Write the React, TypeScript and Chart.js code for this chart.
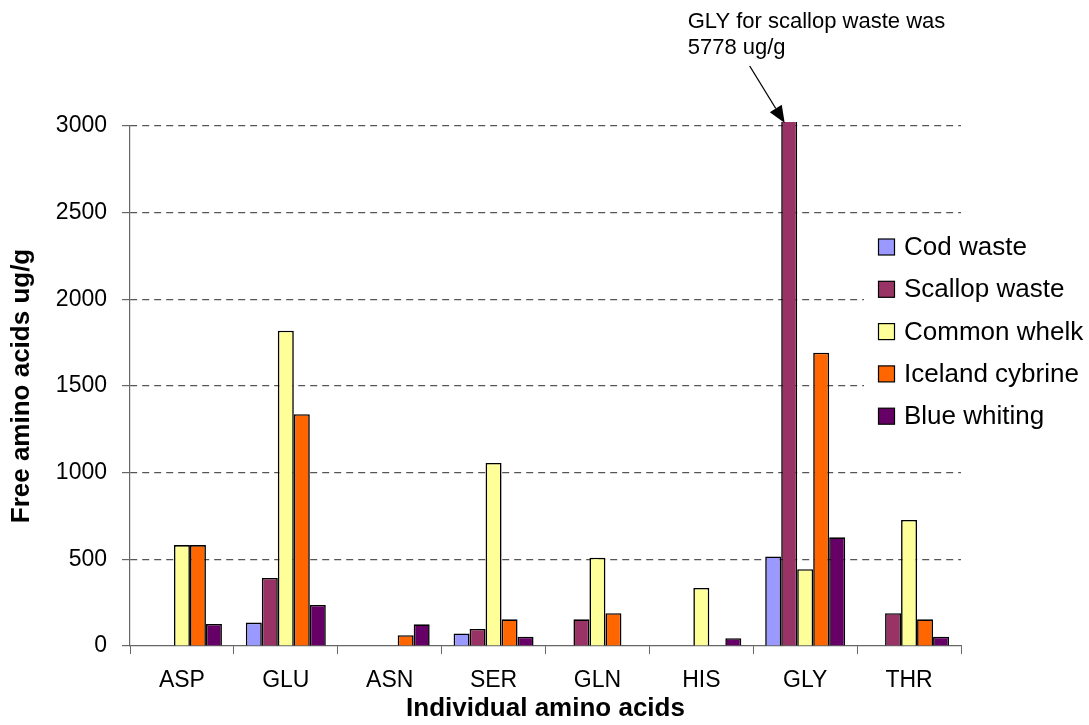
import { useEffect, useRef } from "react";
import { Chart, registerables } from "chart.js";

Chart.register(...registerables);

// Amino acid categories along the x axis
const categories = ["ASP", "GLU", "ASN", "SER", "GLN", "HIS", "GLY", "THR"];

// Free amino acid content (ug/g) per raw material; null = not detected
const codWaste = [null, 135, null, 72, null, null, 517, null];
const scallopWaste = [null, 393, null, 98, 154, null, 5778, 189];
const commonWhelk = [582, 1819, null, 1056, 509, 335, 443, 727];
const icelandCybrine = [582, 1337, 62, 154, 189, null, 1692, 154];
const blueWhiting = [127, 237, 125, 54, null, 45, 627, 54];

const seriesNames = ["Cod waste", "Scallop waste", "Common whelk", "Iceland cybrine", "Blue whiting"];
const seriesValues = [codWaste, scallopWaste, commonWhelk, icelandCybrine, blueWhiting];
const seriesColors = ["#9999FF", "#993366", "#FFFF99", "#FF6600", "#660066"];

const yMin = 0;
const yMax = 3000;
const yStep = 500;

const xTitle = "Individual amino acids";
const yTitle = "Free amino acids ug/g";
const noteLines = ["GLY for scallop waste was", "5778 ug/g"];
const noteSeries = 1;
const noteCategory = 6;

const FONT = "'Liberation Sans', Arial, Helvetica, sans-serif";

// Legend panel and the call-out arrow for the off-scale GLY bar
const overlayPlugin = {
  id: "overlay",
  afterDraw(chart: any) {
    const ctx: CanvasRenderingContext2D = chart.ctx;
    const area = chart.chartArea;

    // legend with a white backing panel
    ctx.save();
    ctx.fillStyle = "#ffffff";
    ctx.fillRect(864, 224, chart.width - 864, 214);
    ctx.font = `26px ${FONT}`;
    ctx.textBaseline = "middle";
    ctx.textAlign = "left";
    chart.data.datasets.forEach((ds: any, i: number) => {
      const cy = 247 + i * 42.3;
      const bx = 878.5;
      const size = 16;
      ctx.fillStyle = ds.backgroundColor;
      ctx.fillRect(bx, cy - size / 2, size, size);
      ctx.strokeStyle = "#000";
      ctx.lineWidth = 1.2;
      ctx.strokeRect(bx, cy - size / 2, size, size);
      ctx.fillStyle = "#000";
      ctx.fillText(ds.label, 904, cy + 1);
    });
    ctx.restore();

    // annotation arrow pointing at the clipped bar
    const bar = chart.getDatasetMeta(noteSeries).data[noteCategory];
    if (!bar) return;
    const tipX = bar.x - 4.5;
    const tipY = area.top - 3;
    const startX = tipX - 35;
    const startY = tipY - 57;
    const dx = tipX - startX;
    const dy = tipY - startY;
    const len = Math.hypot(dx, dy);
    const ux = dx / len;
    const uy = dy / len;
    const headLen = 17;
    const headHalf = 7;
    const baseX = tipX - ux * headLen;
    const baseY = tipY - uy * headLen;

    ctx.save();
    ctx.strokeStyle = "#000";
    ctx.fillStyle = "#000";
    ctx.lineWidth = 1.3;
    ctx.beginPath();
    ctx.moveTo(startX, startY);
    ctx.lineTo(baseX, baseY);
    ctx.stroke();
    ctx.beginPath();
    ctx.moveTo(tipX, tipY);
    ctx.lineTo(baseX - uy * headHalf, baseY + ux * headHalf);
    ctx.lineTo(baseX + uy * headHalf, baseY - ux * headHalf);
    ctx.closePath();
    ctx.fill();

    ctx.font = `22px ${FONT}`;
    ctx.textBaseline = "middle";
    ctx.textAlign = "left";
    noteLines.forEach((line, i) => {
      ctx.fillText(line, tipX - 97, tipY - 101 + i * 26);
    });
    ctx.restore();
  },
};

export default function App() {
  const canvasRef = useRef<HTMLCanvasElement | null>(null);

  useEffect(() => {
    const canvas = canvasRef.current;
    if (!canvas) return;

    const chart = new Chart(canvas, {
      type: "bar",
      data: {
        labels: categories,
        datasets: seriesNames.map((name, i) => ({
          label: name,
          data: seriesValues[i],
          backgroundColor: seriesColors[i],
          borderColor: "#000000",
          borderWidth: 1.6,
          categoryPercentage: 0.77,
          barPercentage: 1,
          clip: { left: 5, top: 4, right: 5, bottom: 5 },
        })),
      },
      options: {
        responsive: false,
        animation: false,
        layout: { padding: { top: 126, right: 128, bottom: 0, left: 0 } },
        plugins: {
          legend: { display: false },
          tooltip: { enabled: false },
        },
        scales: {
          x: {
            afterFit: (scale: any) => {
              scale.height = 79;
            },
            grid: {
              offset: true,
              drawOnChartArea: false,
              drawTicks: true,
              tickLength: 8,
              color: "#666666",
              tickColor: "#666666",
            },
            border: { display: true, color: "#666666", width: 1.2 },
            ticks: {
              color: "#000000",
              padding: 13,
              font: { family: FONT, size: 23 },
              maxRotation: 0,
            },
            title: {
              display: true,
              text: xTitle,
              color: "#000000",
              font: { family: FONT, size: 26, weight: "bold" },
              padding: { top: 0, bottom: 1 },
            },
          },
          y: {
            min: yMin,
            max: yMax,
            afterFit: (scale: any) => {
              scale.width = 130;
            },
            ticks: {
              stepSize: yStep,
              color: "#000000",
              padding: 15,
              font: { family: FONT, size: 23 },
              callback: (value: any) => String(value),
            },
            grid: {
              color: (c: any) => (c.tick && c.tick.value === 0 ? "rgba(0,0,0,0)" : "#555555"),
              tickColor: "#666666",
              tickLength: 8,
              lineWidth: 1.2,
            },
            border: { display: true, color: "#666666", width: 1.2, dash: [7, 5] },
            title: {
              display: true,
              text: yTitle,
              color: "#000000",
              font: { family: FONT, size: 26, weight: "bold" },
              padding: { top: 6, bottom: 0 },
            },
          },
        },
      },
      plugins: [overlayPlugin],
    });

    return () => {
      chart.destroy();
    };
  }, []);

  return (
    <div style={{ position: "fixed", left: 0, top: 0, width: 1089, height: 725, background: "#fff" }}>
      <canvas ref={canvasRef} width={1089} height={725} />
    </div>
  );
}
